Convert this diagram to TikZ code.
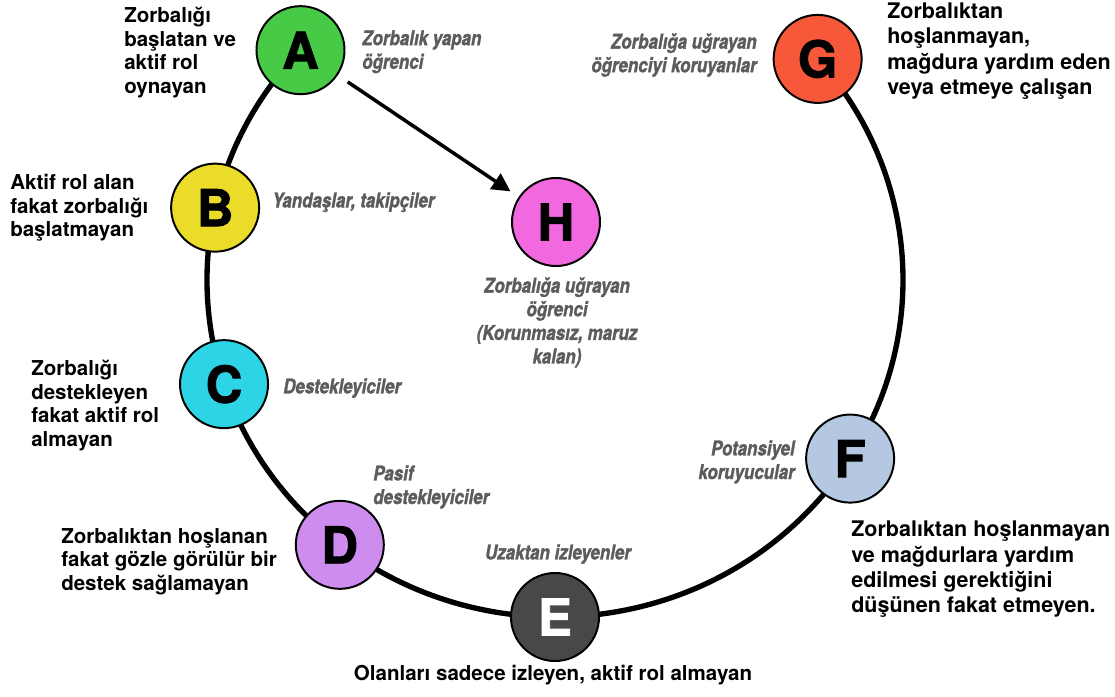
\documentclass[tikz,border=0pt]{standalone}
\usepackage{fontspec}
\setmainfont{TeX Gyre Heros}
\newfontfamily\grayfont[FakeStretch=0.83,FakeBold=1.4]{TeX Gyre Heros}
\newfontfamily\letterfont[FakeBold=1.8]{TeX Gyre Heros}
\usetikzlibrary{arrows.meta,backgrounds}
\definecolor{cA}{HTML}{47CB47}
\definecolor{cB}{HTML}{EBDC2A}
\definecolor{cC}{HTML}{2DD4E6}
\definecolor{cD}{HTML}{CD8CEE}
\definecolor{cE}{HTML}{484848}
\definecolor{cF}{HTML}{B4C8E1}
\definecolor{cG}{HTML}{F8583A}
\definecolor{cH}{HTML}{F268DE}
\definecolor{txtgray}{HTML}{5C5C5C}
\tikzset{
  circ/.style={circle, draw=black, line width=1.4pt, minimum size=2.2cm, inner sep=0pt,
    font=\letterfont\bfseries\fontsize{36}{36}\selectfont},
  ring/.style={line width=3.8pt, black},
  arrowline/.style={line width=2.5pt, -{Triangle[length=13pt,width=13pt]},
    shorten <=8.5pt, shorten >=7pt},
  blk/.style={inner sep=0pt, align=left, font=\bfseries\fontsize{14.6}{16.7}\selectfont},
  blkbig/.style={inner sep=0pt, align=left, font=\bfseries\fontsize{15.3}{17.8}\selectfont},
  gry/.style={inner sep=0pt, text=txtgray, font=\grayfont\bfseries\itshape\fontsize{14.5}{16.8}\selectfont},
}
\begin{document}
\begin{tikzpicture}[x=0.025cm, y=-0.025cm]
\useasboundingbox (0,0) rectangle (1115,696);
\coordinate (O) at (555,280);
\path (O) ++(-137:348 and 337) node[circ, fill=cA] (A) {A};
\path (O) ++(-167.6:348 and 337) node[circ, fill=cB] (B) {B};
\path (O) ++(-198:348 and 337) node[circ, fill=cC] (C) {C};
\path (O) ++(-231.8:348 and 337) node[circ, fill=cD] (D) {D};
\path (O) ++(-270:348 and 337) node[circ, fill=cE, text=white] (E) {E};
\path (O) ++(-328:348 and 337) node[circ, fill=cF] (F) {F};
\path (O) ++(-401:348 and 337) node[circ, fill=cG] (G) {G};
\node[circ, fill=cH] (H) at (556,222) {H};
\begin{pgfonlayer}{background}
\draw[ring] (A.center) arc[start angle=-137, end angle=-401, x radius=348, y radius=337];
\end{pgfonlayer}
\draw[arrowline] (A) -- (H);
% black descriptions
\node[blk, anchor=north west] (tA) at (124,7) {Zorbalığı\\başlatan ve\\aktif rol\\oynayan};
\node[blk, anchor=north west] (tB) at (10,174) {Aktif rol alan\\fakat zorbalığı\\başlatmayan};
\node[blk, anchor=north west] (tC) at (31,360) {Zorbalığı\\destekleyen\\fakat aktif rol\\almayan};
\node[blk, anchor=north west] (tD) at (61,528) {Zorbalıktan hoşlanan\\fakat gözle görülür bir\\destek sağlamayan};
\node[blk, anchor=north, align=center] (tE) at (553,665) {Olanları sadece izleyen, aktif rol almayan};
\node[blkbig, anchor=north west] (tF) at (851,521) {Zorbalıktan hoşlanmayan\\ve mağdurlara yardım\\edilmesi gerektiğini\\düşünen fakat etmeyen.};
\node[blkbig, anchor=north west] (tG) at (887,3) {Zorbalıktan\\hoşlanmayan,\\mağdura yardım eden\\veya etmeye çalışan};
% gray role names
\node[gry, anchor=north west, align=left] (gA) at (362,30) {Zorbalık yapan\\öğrenci};
\node[gry, anchor=north west, align=left] (gB) at (272,192) {Yandaşlar, takipçiler};
\node[gry, anchor=north west, align=left] (gC) at (283,378) {Destekleyiciler};
\node[gry, anchor=north west, align=left] (gD) at (373,465) {Pasif\\destekleyiciler};
\node[gry, anchor=north, align=center] (gE) at (558,544) {Uzaktan izleyenler};
\node[gry, anchor=north east, align=right] (gF) at (795,440) {Potansiyel\\koruyucular};
\node[gry, anchor=north east, align=right] (gG) at (757,33) {Zorbalığa uğrayan\\öğrenciyi koruyanlar};
\node[gry, anchor=north, align=center] (gH) at (557,277) {Zorbalığa uğrayan\\öğrenci\\(Korunmasız, maruz\\kalan)};
\end{tikzpicture}
\end{document}
